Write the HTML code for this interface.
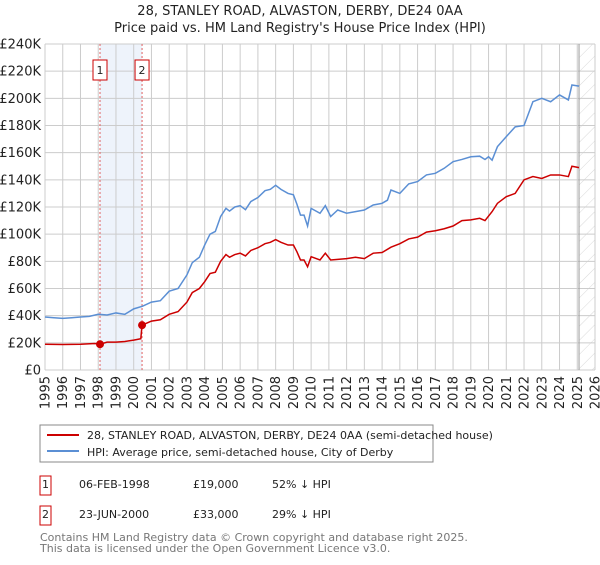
<!DOCTYPE html>
<html><head><meta charset="utf-8"><style>
body{margin:0;background:#fff;font-family:"Liberation Sans","DejaVu Sans",sans-serif}
svg text{font-family:"DejaVu Sans","Liberation Sans",sans-serif}
</style></head><body>
<svg id="c" width="600" height="560" xmlns="http://www.w3.org/2000/svg">
<defs><pattern id="hatch" width="10" height="10" patternUnits="userSpaceOnUse" patternTransform="rotate(45)"><line x1="0" y1="0" x2="0" y2="10" stroke="#d0d0d0" stroke-width="0.8"/></pattern></defs>
<text x="300" y="15" text-anchor="middle" font-size="13" fill="#222">28, STANLEY ROAD, ALVASTON, DERBY, DE24 0AA</text>
<text x="300" y="32" text-anchor="middle" font-size="13" fill="#222">Price paid vs. HM Land Registry's House Price Index (HPI)</text>
<g id="plot"></g>
<rect x="40" y="425" width="393" height="37" fill="#fff" stroke="#888"/>
<line x1="47" y1="435" x2="79" y2="435" stroke="#cc0000" stroke-width="2"/>
<text x="87" y="439" font-size="11" fill="#222">28, STANLEY ROAD, ALVASTON, DERBY, DE24 0AA (semi-detached house)</text>
<line x1="47" y1="451" x2="79" y2="451" stroke="#5b8fd4" stroke-width="2"/>
<text x="87" y="456" font-size="11" fill="#222">HPI: Average price, semi-detached house, City of Derby</text>
<g font-size="11" fill="#222">
<rect x="40" y="476" width="11" height="19" fill="#fff" stroke="#cc0000"/>
<text x="45.5" y="488" text-anchor="middle">1</text>
<text x="79" y="488">06-FEB-1998</text>
<text x="193" y="488">£19,000</text>
<text x="272" y="488">52% ↓ HPI</text>
<rect x="40" y="506" width="11" height="19" fill="#fff" stroke="#cc0000"/>
<text x="45.5" y="518" text-anchor="middle">2</text>
<text x="79" y="518">23-JUN-2000</text>
<text x="193" y="518">£33,000</text>
<text x="272" y="518">29% ↓ HPI</text>
</g>
<text x="40" y="541" font-size="11" fill="#777">Contains HM Land Registry data © Crown copyright and database right 2025.</text>
<text x="40" y="552" font-size="11" fill="#777">This data is licensed under the Open Government Licence v3.0.</text>
</svg>
<script>
const hpiYears=[1995,1995.5,1996,1996.5,1997,1997.5,1998,1998.5,1999,1999.5,2000,2000.5,2001,2001.5,2002,2002.5,2003,2003.3,2003.7,2004,2004.3,2004.6,2004.9,2005.2,2005.4,2005.7,2006,2006.3,2006.6,2007,2007.4,2007.7,2008,2008.3,2008.7,2009,2009.2,2009.4,2009.6,2009.8,2010,2010.5,2010.8,2011.1,2011.5,2012,2012.5,2013,2013.5,2014,2014.3,2014.5,2015,2015.5,2016,2016.5,2017,2017.5,2018,2018.5,2019,2019.5,2019.8,2020,2020.2,2020.5,2021,2021.5,2022,2022.5,2023,2023.5,2024,2024.5,2024.7,2025.1];
const hpiValues=[39,38.5,38,38.5,39,39.5,41,40.5,42,41,45,47,50,51,58,60,70,79,83,92,100,102,113,119,117,120,121,118,124,127,132,133,136,133,130,129,122,114,114,106,119,115.4,121,113,117.8,115.4,116.6,117.8,121.5,122.7,125,132.5,130,137,138.7,143.6,144.8,148.5,153.4,155,157,157.4,155,157,154.5,164.4,171.8,179,180,197.5,200,197.5,202.5,198.8,209.8,209];
const priceYears=[1995,1996,1997,1997.8,1998.1,1998.5,1999,1999.5,2000,2000.4,2000.47,2001,2001.5,2002,2002.5,2003,2003.3,2003.7,2004,2004.3,2004.6,2004.9,2005.2,2005.4,2005.7,2006,2006.3,2006.6,2007,2007.4,2007.7,2008,2008.3,2008.7,2009,2009.2,2009.4,2009.6,2009.8,2010,2010.5,2010.8,2011.1,2012,2012.5,2013,2013.5,2014,2014.5,2015,2015.5,2016,2016.5,2017,2017.5,2018,2018.5,2019,2019.5,2019.8,2020.2,2020.5,2021,2021.5,2022,2022.5,2023,2023.5,2024,2024.5,2024.7,2025.1];
const priceValues=[19,18.8,19,19.5,19,20.5,20.5,21,22,23,33,36,37,41,43,50,57,60,65,71,72,80,85,83,85,86,84,88,90,93,94,96,94,92,92,87,81,81,76,83.4,81,86,81,82,83,82,86,86.5,90.4,93,96.5,97.8,101.5,102.5,104,106,110,110.5,111.7,110,116.6,122.7,127.6,130,140,142.4,141,143.6,143.6,142.4,150,149];
const saleYears=[1998.1,2000.47];
const saleValues=[19,33];
const saleLabels=["1","2"];
const yTicks=[0,20,40,60,80,100,120,140,160,180,200,220,240];
const xTicks=[1995,1996,1997,1998,1999,2000,2001,2002,2003,2004,2005,2006,2007,2008,2009,2010,2011,2012,2013,2014,2015,2016,2017,2018,2019,2020,2021,2022,2023,2024,2025,2026];
const X0=45,X1=595,Y0=370,Y1=44,xMin=1995,xMax=2026,yMax=240,dataEnd=2025.1;
const sx=v=>X0+(v-xMin)/(xMax-xMin)*(X1-X0);
const sy=v=>Y0-v/yMax*(Y0-Y1);
const NS="http://www.w3.org/2000/svg",g=document.getElementById('plot');
function mk(t,a){const e=document.createElementNS(NS,t);for(const k in a)e.setAttribute(k,a[k]);g.appendChild(e);return e;}
let e;
e=mk('rect',{x:sx(saleYears[0]),y:Y1,width:sx(saleYears[1])-sx(saleYears[0]),height:Y0-Y1,fill:'#eef3fb'});


yTicks.forEach(t=>{
 e=mk('line',{x1:X0,x2:X1,y1:sy(t),y2:sy(t),stroke:'#ccc'});
 
 
 e=mk('text',{x:X0-4,y:sy(t)+4.5,'text-anchor':'end','font-size':13,fill:'#222'});e.textContent=t===0?'£0':'£'+t+'K';
 
 
});
xTicks.forEach(t=>{
 e=mk('line',{x1:sx(t),x2:sx(t),y1:Y1,y2:Y0,stroke:'#ccc'});
 
 
 e=mk('text',{x:0,y:0,'text-anchor':'end','font-size':13,fill:'#222',transform:`translate(${sx(t)+4.5},${Y0+6}) rotate(-90)`});e.textContent=t;
 
 
});
e=mk('rect',{x:sx(dataEnd),y:Y1,width:X1-sx(dataEnd),height:Y0-Y1,fill:'url(#hatch)'});


e=mk('line',{x1:sx(dataEnd),x2:sx(dataEnd),y1:Y1,y2:Y0,stroke:'#999','stroke-width':1});


saleYears.forEach((yr,i)=>{
 e=mk('line',{x1:sx(yr),x2:sx(yr),y1:Y1,y2:Y0,stroke:'#e06060','stroke-dasharray':'2,2'});
 
 
 e=mk('rect',{x:sx(yr)-7,y:60,width:14,height:20,fill:'#fff',stroke:'#cc0000'});
 
 
 e=mk('text',{x:sx(yr),y:74,'text-anchor':'middle','font-size':11,fill:'#222'});e.textContent=saleLabels[i];
 
 
});
e=mk('polyline',{points:hpiYears.map((y,i)=>sx(y)+','+sy(hpiValues[i])).join(' '),fill:'none',stroke:'#5b8fd4','stroke-width':1.5});


e=mk('polyline',{points:priceYears.map((y,i)=>sx(y)+','+sy(priceValues[i])).join(' '),fill:'none',stroke:'#cc0000','stroke-width':1.5});


saleYears.forEach((yr,i)=>{
 e=mk('circle',{cx:sx(yr),cy:sy(saleValues[i]),r:4,fill:'#cc0000'});
 
 
});
</script>
</body></html>
